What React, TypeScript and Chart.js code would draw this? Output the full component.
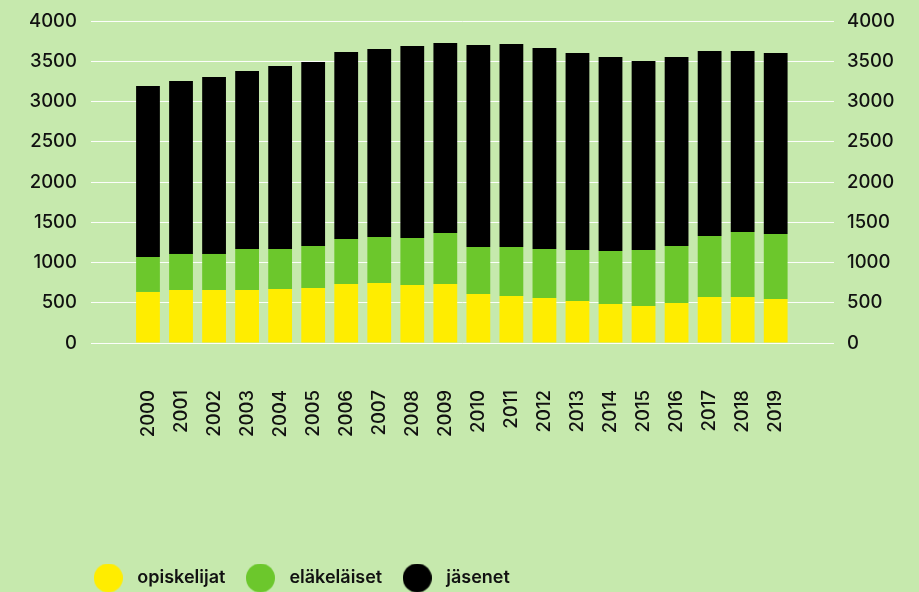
import React, { useEffect, useRef } from "react";
import { Chart, registerables } from "chart.js";

Chart.register(...registerables);

const years = [
  "2000", "2001", "2002", "2003", "2004", "2005", "2006", "2007", "2008", "2009",
  "2010", "2011", "2012", "2013", "2014", "2015", "2016", "2017", "2018", "2019",
];
const opiskelijat = [634, 658, 658, 658, 671, 683, 733, 745, 720, 733, 609, 584, 559, 522, 484, 460, 497, 571, 571, 547];
const elakelaiset = [434, 448, 448, 510, 497, 522, 559, 572, 584, 633, 584, 609, 609, 633, 659, 695, 708, 758, 808, 807];
const jasenet = [2125, 2149, 2198, 2211, 2273, 2286, 2323, 2335, 2385, 2361, 2509, 2521, 2497, 2447, 2410, 2348, 2348, 2298, 2248, 2248];
const yTicks = [0, 500, 1000, 1500, 2000, 2500, 3000, 3500, 4000];
const seriesNames = ["opiskelijat", "eläkeläiset", "jäsenet"];
const seriesColors = ["#ffed00", "#6cc72c", "#000000"];

const BG = "#c6e9ad";
const TEXT = "#111111";
const FONT = "Inter";

function makeMarker(color: string, size: number): HTMLCanvasElement {
  const c = document.createElement("canvas");
  c.width = size;
  c.height = size;
  const ctx = c.getContext("2d")!;
  ctx.fillStyle = color;
  ctx.beginPath();
  ctx.arc(size / 2, size / 2, size / 2, 0, Math.PI * 2);
  ctx.fill();
  return c;
}

export default function App() {
  const ref = useRef<HTMLCanvasElement | null>(null);

  useEffect(() => {
    if (!ref.current) return;
    const markers = seriesColors.map((c) => makeMarker(c, 29));
    const spacerMarker = makeMarker("rgba(0,0,0,0)", 1);
    const xTickFont = { family: FONT, size: 18.5, weight: 500 as any };
    const yTickFont = { family: FONT, size: 18.5, weight: 500 as any, lineHeight: 0.6 };
    const chart = new Chart(ref.current, {
      type: "bar",
      data: {
        labels: years,
        datasets: [
          { label: seriesNames[0], data: opiskelijat, backgroundColor: seriesColors[0], borderWidth: 0 },
          { label: seriesNames[1], data: elakelaiset, backgroundColor: seriesColors[1], borderWidth: 0 },
          { label: seriesNames[2], data: jasenet, backgroundColor: seriesColors[2], borderWidth: 0 },
        ],
      },
      options: {
        animation: false,
        responsive: false,
        layout: { padding: { left: 9.3, top: 21, right: 0, bottom: 0 } },
        scales: {
          x: {
            type: "linear",
            stacked: true,
            offset: false,
            min: 1998.275,
            max: 2020.765,
            grid: { display: false },
            border: { display: false },
            afterBuildTicks: (s: any) => {
              s.ticks = years.map((v) => ({ value: Number(v) }));
            },
            afterFit: (s: any) => {
              s.height = 211;
            },
            ticks: {
              minRotation: 90,
              maxRotation: 90,
              autoSkip: false,
              padding: 39,
              color: TEXT,
              font: xTickFont,
              callback: (v: any) => String(v),
            },
          },
          y: {
            position: "left",
            stacked: true,
            min: 0,
            max: 4000,
            afterBuildTicks: (s: any) => {
              s.ticks = yTicks.map((v) => ({ value: v }));
            },
            afterFit: (s: any) => {
              s.width = 81.7;
            },
            grid: { color: "rgba(255,255,255,0.95)", lineWidth: 1, drawTicks: false },
            border: { display: false },
            ticks: { padding: 14, color: TEXT, font: yTickFont, callback: (v: any) => String(v) },
          },
          y2: {
            position: "right",
            min: 0,
            max: 4000,
            afterBuildTicks: (s: any) => {
              s.ticks = yTicks.map((v) => ({ value: v }));
            },
            afterFit: (s: any) => {
              s.width = 85;
            },
            grid: { display: false, drawTicks: false },
            border: { display: false },
            ticks: { padding: 13, color: TEXT, font: yTickFont, callback: (v: any) => String(v) },
          },
        },
        plugins: {
          tooltip: { enabled: false },
          legend: {
            position: "bottom",
            align: "start",
            labels: {
              usePointStyle: true,
              pointStyleWidth: 40,
              padding: 15,
              color: TEXT,
              font: { family: FONT, size: 18, weight: 600 as any },
              generateLabels: (c: any) => {
                const items = (Chart.defaults.plugins.legend.labels.generateLabels as any)(c).map(
                  (l: any, i: number) => ({ ...l, pointStyle: markers[i] })
                );
                const spacer = {
                  text: "",
                  fillStyle: "rgba(0,0,0,0)",
                  strokeStyle: "rgba(0,0,0,0)",
                  lineWidth: 0,
                  hidden: false,
                  pointStyle: spacerMarker,
                  datasetIndex: -1,
                };
                return [spacer, ...items];
              },
            },
          },
        },
      } as any,
    });
    return () => chart.destroy();
  }, []);

  return (
    <div
      style={{
        position: "absolute",
        left: 0,
        top: 0,
        width: 919,
        height: 592,
        overflow: "hidden",
        background: BG,
      }}
    >
      <canvas ref={ref} width={919} height={597} style={{ display: "block", width: 919, height: 597 }} />
    </div>
  );
}
